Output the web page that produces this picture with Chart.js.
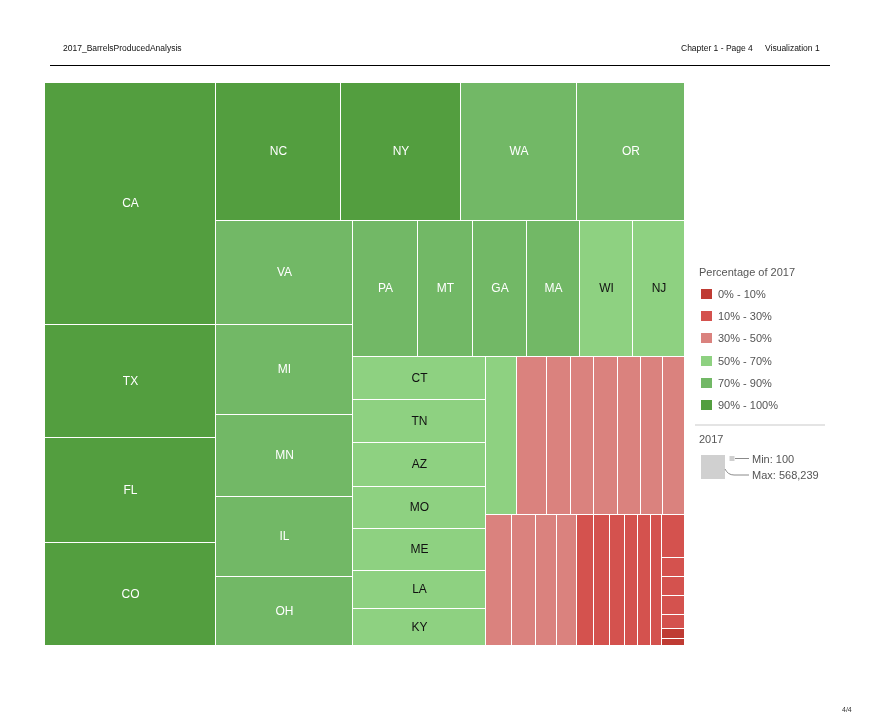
<!DOCTYPE html>
<html>
<head>
<meta charset="utf-8">
<title>2017_BarrelsProducedAnalysis</title>
<script src="https://cdn.jsdelivr.net/npm/chart.js@4.4.1/dist/chart.umd.min.js"></script>
<style>
  html, body { margin: 0; padding: 0; background: #fff; }
  #page { position: relative; width: 881px; height: 723px; overflow: hidden;
          font-family: "Liberation Sans", Arial, sans-serif; }
  #tree { position: absolute; left: 0; top: 0; }
  .t { position: absolute; white-space: nowrap; }
  .hdr { font-size: 8.5px; color: #111; line-height: 10px; }
  .lg { font-size: 11px; color: #555; line-height: 14px; }
  .sw { position: absolute; width: 11px; height: 10px; }
</style>
</head>
<body>
<div id="page">
  <canvas id="tree" width="881" height="723"></canvas>

  <div class="t hdr" style="left:63px;top:43px">2017_BarrelsProducedAnalysis</div>
  <div class="t hdr" style="left:681px;top:43px">Chapter 1 - Page 4</div>
  <div class="t hdr" style="left:765px;top:43px">Visualization 1</div>
  <div style="position:absolute;left:50px;top:65px;width:780px;height:1px;background:#000"></div>

  <div id="legend"></div>

  <div class="t" style="left:842px;top:706px;font-size:7px;color:#333">4/4</div>
</div>

<script>
/* 2017 barrels produced by state: treemap, size = barrels, colour = percentage band. */
(function () {
  "use strict";

  // ---- data (largest first) ----
  const STATES = [
    "CA", "TX", "FL", "CO",
    "NC", "NY", "WA", "OR",
    "VA", "MI", "MN", "IL", "OH",
    "PA", "MT", "GA", "MA", "WI", "NJ",
    "CT", "TN", "AZ", "MO", "ME", "LA", "KY",
    "IN", "MD", "SC", "AL", "UT", "NH", "VT", "NE",
    "IA", "NM", "ID", "KS", "OK", "NV", "DE", "RI", "AR", "SD",
    "MS", "WV", "HI", "AK", "ND", "WY", "DC",
  ];
  const BARRELS = [
    568239, 265000, 244600, 242500,
    235300, 227100, 219500, 205200,
    195000, 166900, 154600, 149500, 128400,
    120600, 102100, 101900, 98300, 98200, 95900,
    79100, 79000, 78400, 76700, 76500, 69300, 67900,
    67200, 65000, 52100, 52000, 51900, 49800, 47600, 47000,
    46600, 44800, 37700, 35900, 30500, 28700, 26900, 23300, 22100, 21000,
    13200, 6000, 5900, 5850, 4360, 3110, 2180,
  ];
  // index into BAND_LABELS for each state ("Percentage of 2017")
  const BANDS = [
    5, 5, 5, 5,
    5, 5, 4, 4,
    4, 4, 4, 4, 4,
    4, 4, 4, 4, 3, 3,
    3, 3, 3, 3, 3, 3, 3,
    3, 2, 2, 2, 2, 2, 2, 2,
    2, 2, 2, 2, 1, 1, 1, 1, 1, 1,
    1, 1, 1, 1, 1, 0, 0,
  ];
  const BAND_LABELS = ["0% - 10%", "10% - 30%", "30% - 50%", "50% - 70%", "70% - 90%", "90% - 100%"];
  const SIZE_MIN = 100;

  // ---- styling / layout knobs ----
  const BAND_COLORS = ["#bf3b33", "#d4524e", "#da827e", "#8ed181", "#72b866", "#539e3f"];
  const DARK_TEXT_BANDS = [3];           // light green cells carry black labels
  const STRIP_SIZES = [4, 4, 5, 6, 7, 8]; // items per strip before the small-tile tail
  const MIN_SLICE_PX = 10;               // tail slices thinner than this flip direction
  const FONT = "'Liberation Sans', Arial, sans-serif";

  const sum = (a) => a.reduce((s, v) => s + v, 0);

  // Lay the values out in unit space; pxW/pxH give the pixel aspect for orientation.
  function layoutCells(values, pxW, pxH) {
    const cells = [];
    let r = { x: 0, y: 0, w: 1, h: 1 };
    let rest = sum(values);
    let i = 0;

    for (const n of STRIP_SIZES) {
      const group = values.slice(i, i + n);
      const gsum = sum(group);
      const share = gsum / rest;
      if (r.w * pxW >= r.h * pxH) {
        // column down the left side
        const t = r.w * share;
        let y = r.y;
        group.forEach((v) => { const h = r.h * v / gsum; cells.push({ x: r.x, y, w: t, h }); y += h; });
        r = { x: r.x + t, y: r.y, w: r.w - t, h: r.h };
      } else {
        // row across the top
        const t = r.h * share;
        let x = r.x;
        group.forEach((v) => { const w = r.w * v / gsum; cells.push({ x, y: r.y, w, h: t }); x += w; });
        r = { x: r.x, y: r.y + t, w: r.w, h: r.h - t };
      }
      rest -= gsum;
      i += n;
    }

    // tail: slice-and-dice, flip once when slices get too thin
    let across = r.w * pxW >= r.h * pxH;
    let flipped = false;
    while (i < values.length) {
      const v = values[i];
      if (across) {
        const t = r.w * v / rest;
        if (!flipped && t * pxW < MIN_SLICE_PX) { across = false; flipped = true; continue; }
        cells.push({ x: r.x, y: r.y, w: t, h: r.h });
        r = { x: r.x + t, y: r.y, w: r.w - t, h: r.h };
      } else {
        const t = r.h * v / rest;
        if (!flipped && t * pxH < MIN_SLICE_PX) { across = true; flipped = true; continue; }
        cells.push({ x: r.x, y: r.y, w: r.w, h: t });
        r = { x: r.x, y: r.y + t, w: r.w, h: r.h - t };
      }
      rest -= v;
      i++;
    }
    return cells;
  }

  const treemapCells = {
    id: "treemapCells",
    afterDatasetsDraw(chart) {
      const xs = chart.scales.x, ys = chart.scales.y, ctx = chart.ctx;
      const cells = layoutCells(BARRELS, xs.width, ys.height);
      ctx.save();
      ctx.font = "12px " + FONT;
      ctx.textAlign = "center";
      ctx.textBaseline = "middle";
      cells.forEach((c, i) => {
        const x0 = Math.round(xs.getPixelForValue(c.x));
        const x1 = Math.round(xs.getPixelForValue(c.x + c.w));
        const y0 = Math.round(ys.getPixelForValue(c.y));
        const y1 = Math.round(ys.getPixelForValue(c.y + c.h));
        ctx.fillStyle = BAND_COLORS[BANDS[i]];
        ctx.fillRect(x0, y0, Math.max(1, x1 - x0 - 1), Math.max(1, y1 - y0 - 1));
        if (x1 - x0 >= 40 && y1 - y0 >= 20) {
          ctx.fillStyle = DARK_TEXT_BANDS.includes(BANDS[i]) ? "#111" : "#fff";
          ctx.fillText(STATES[i], (x0 + x1) / 2, (y0 + y1) / 2);
        }
      });
      ctx.restore();
    },
  };

  new Chart(document.getElementById("tree"), {
    type: "scatter",
    data: { datasets: [] },
    options: {
      responsive: false,
      animation: false,
      layout: { padding: { left: 45, top: 83, right: 196, bottom: 77 } },
      scales: {
        x: { type: "linear", min: 0, max: 1, display: false },
        y: { type: "linear", min: 0, max: 1, reverse: true, display: false },
      },
      plugins: { legend: { display: false }, tooltip: { enabled: false } },
    },
    plugins: [treemapCells],
  });

  // ---- legends (colour bands + size) ----
  const fmt = (n) => n.toLocaleString("en-US");
  let html = '<div class="t lg" style="left:699px;top:265px">Percentage of 2017</div>';
  BAND_LABELS.forEach((lab, k) => {
    const top = 289 + k * 22.2;
    html += `<div class="sw" style="left:701px;top:${top}px;background:${BAND_COLORS[k]}"></div>`;
    html += `<div class="t lg" style="left:718px;top:${top - 2}px">${lab}</div>`;
  });
  html += '<div style="position:absolute;left:695px;top:424px;width:130px;height:2px;background:#e4e4e4"></div>';
  html += '<div class="t lg" style="left:699px;top:432px">2017</div>';
  html += '<svg style="position:absolute;left:0;top:0" width="881" height="723">' +
    '<rect x="701" y="455" width="24" height="24" fill="#d0d0d0"/>' +
    '<rect x="729.5" y="456" width="5" height="5" fill="#cfcfcf"/>' +
    '<line x1="735" y1="458.5" x2="749" y2="458.5" stroke="#8a8a8a" stroke-width="1"/>' +
    '<path d="M725 469 Q728 475 734 475 L749 475" fill="none" stroke="#8a8a8a" stroke-width="1"/>' +
    '</svg>';
  html += `<div class="t lg" style="left:752px;top:452px">Min: ${fmt(SIZE_MIN)}</div>`;
  html += `<div class="t lg" style="left:752px;top:468px">Max: ${fmt(Math.max(...BARRELS))}</div>`;
  document.getElementById("legend").innerHTML = html;
})();
</script>
</body>
</html>
